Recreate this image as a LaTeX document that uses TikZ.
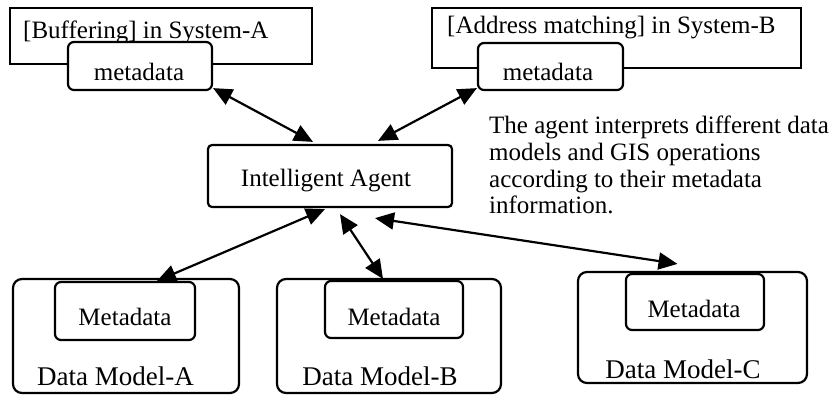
\documentclass[tikz,border=0pt]{standalone}
\usepackage{fontspec}
\setmainfont{Liberation Serif}
\usetikzlibrary{arrows.meta}
\begin{document}
\begin{tikzpicture}[x=1pt,y=-1pt,
  box/.style={draw, line width=2.2pt, inner sep=0pt, fill=white},
  plainbox/.style={box, rectangle},
  modelbox/.style={box, rounded corners=9pt},
  metabox/.style={box, rounded corners=6pt},
  agentbox/.style={box, rounded corners=4pt},
  txt/.style={inner sep=0pt, anchor=base, font=\fontsize{25}{27}\selectfont},
  ltxt/.style={txt, anchor=base west},
  bigtxt/.style={txt, font=\fontsize{27}{29}\selectfont},
  link/.style={line width=2.2pt, {Triangle[length=19pt,width=17pt]}-{Triangle[length=19pt,width=17pt]}}
]
\useasboundingbox (0,0) rectangle (834,394);

% operations with their metadata
\node[plainbox, minimum width=302pt, minimum height=56pt] (sysA) at (161,36) {};
\node[ltxt] (sysAt) at (23,38) {[Buffering] in System-A};
\node[metabox, minimum width=144pt, minimum height=48pt] (metaA) at (140,66) {};
\node[txt] (metaAt) at (139,80) {metadata};

\node[plainbox, minimum width=369pt, minimum height=60pt] (sysB) at (616.5,38) {};
\node[ltxt] (sysBt) at (447,33) {[Address matching] in System-B};
\node[metabox, minimum width=145pt, minimum height=47pt] (metaB) at (550.5,66.5) {};
\node[txt] (metaBt) at (548,80) {metadata};

% agent
\node[agentbox, minimum width=244pt, minimum height=62pt] (agent) at (330,176) {};
\node[txt] (agentt) at (326,186) {Intelligent Agent};

% explanation
\node[ltxt] (d1) at (489,133) {The agent interprets different data};
\node[ltxt] (d2) at (489,160) {models and GIS operations};
\node[ltxt] (d3) at (489,187) {according to their metadata};
\node[ltxt] (d4) at (489,213) {information.};

% data models
\node[modelbox, minimum width=226pt, minimum height=114pt] (dmA) at (126,336) {};
\node[metabox, minimum width=140pt, minimum height=58pt] (mdA) at (125,311) {};
\node[txt] (mdAt) at (125,325) {Metadata};
\node[bigtxt] (dmAt) at (115.5,385) {Data Model-A};

\node[modelbox, minimum width=224pt, minimum height=114pt] (dmB) at (389,336) {};
\node[metabox, minimum width=138pt, minimum height=57pt] (mdB) at (394,309.5) {};
\node[txt] (mdBt) at (394,325) {Metadata};
\node[bigtxt] (dmBt) at (380,385) {Data Model-B};

\node[modelbox, minimum width=229pt, minimum height=111pt] (dmC) at (692.5,327.5) {};
\node[metabox, minimum width=138pt, minimum height=56pt] (mdC) at (695,302) {};
\node[txt] (mdCt) at (694,317) {Metadata};
\node[bigtxt] (dmCt) at (683,378) {Data Model-C};

% two-way links
\draw[link] ([yshift=3pt]metaA.south east) -- ([xshift=-17pt,yshift=2pt]agent.north);
\draw[link] ([yshift=3pt]metaB.south west) -- ([xshift=48pt,yshift=3pt]agent.north);
\draw[link] ([xshift=-5pt,yshift=-1pt]agent.south) -- ([xshift=31pt,yshift=-3pt]dmA.north);
\draw[link] ([xshift=10pt,yshift=-6pt]agent.south) -- ([xshift=-6pt,yshift=-1pt]dmB.north);
\draw[link] ([xshift=45pt,yshift=-10pt]agent.south) -- ([xshift=-15pt,yshift=7pt]dmC.north);
\end{tikzpicture}
\end{document}
